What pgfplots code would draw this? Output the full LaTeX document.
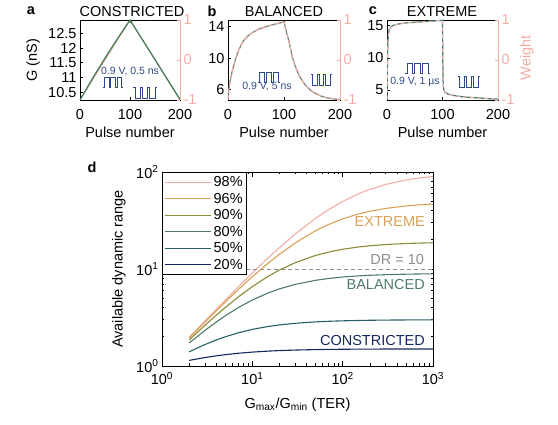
\documentclass[border=0pt]{standalone}
\usepackage{fontspec}
\setmainfont{Liberation Sans}
\setsansfont{Liberation Sans}
\usepackage{pgfplots}
\pgfplotsset{compat=1.18}

\definecolor{cpink}{HTML}{F2ADA4}
\definecolor{cgold}{HTML}{D9A256}
\definecolor{colive}{HTML}{8C8A35}
\definecolor{cgreen}{HTML}{4E7B68}
\definecolor{cteal}{HTML}{275E66}
\definecolor{cnavy}{HTML}{14275E}
\definecolor{cpulse}{HTML}{2E4A86}
\definecolor{cgA}{HTML}{3C7D5A}
\definecolor{cgB}{HTML}{7B807C}
\definecolor{cgC}{HTML}{3E7A6C}
\definecolor{cdr}{HTML}{8E8E8E}

\newcommand\fs{\fontsize{14.5}{16}\selectfont}
\newcommand\fsi{\fontsize{10.5}{12}\selectfont}

\newcommand\pup[4]{\draw[cpulse, line width=0.8pt, shift={(#1,#2)}, xscale=#3, yscale=#4] (0,0)--(0.08,0)--(0.08,1)--(0.3,1)--(0.3,0)--(0.39,0)--(0.39,1)--(0.61,1)--(0.61,0)--(0.7,0)--(0.7,1)--(0.92,1)--(0.92,0)--(1,0);}
\newcommand\pdn[4]{\draw[cpulse, line width=0.8pt, shift={(#1,#2)}, xscale=#3, yscale=#4] (0,1)--(0.08,1)--(0.08,0)--(0.3,0)--(0.3,1)--(0.39,1)--(0.39,0)--(0.61,0)--(0.61,1)--(0.7,1)--(0.7,0)--(0.92,0)--(0.92,1)--(1,1);}

\pgfplotsset{
  small/.style={
    scale only axis, height=80pt, xmin=0, xmax=200,
    xtick={0,100,200}, ytick pos=left, xtick pos=both,
    tick align=inside, major tick length=3pt,
    axis line style={line width=0.7pt}, tick style={line width=0.6pt, black},
    tick label style={font=\fs}, label style={font=\fs},
    /pgf/number format/assume math mode=true,
    xticklabel style={yshift=-6pt},
    xlabel={Pulse number},
    xlabel style={at={(axis description cs:0.5,-0.41)}, anchor=center},
  },
  weight/.style={
    scale only axis, height=80pt, xmin=0, xmax=200, ymin=-1, ymax=1,
    axis x line=none, axis y line*=right, ytick={-1,0,1}, yticklabels={-1,0,1},
    tick align=inside, major tick length=3pt,
    y axis line style={cpink, line width=0.9pt, -}, ytick style={cpink, line width=0.6pt},
    yticklabel style={text=cpink, font=\fs},
    label style={font=\fs},
  },
}

\begin{document}
\begin{tikzpicture}[x=1pt,y=1pt]
\useasboundingbox (0,0) rectangle (558,425);

% ---------------- panel a
\begin{axis}[small, at={(80pt,325pt)}, anchor=south west, width=100pt,
  ymin=10.24, ymax=12.95, ytick={10.5,11,11.5,12,12.5},
  ylabel={G (nS)}, ylabel style={at={(axis description cs:-0.47,0.5)}, anchor=center}]
\addplot[cpink, line width=1.1pt] coordinates {(0,10.24)(100,12.95)(200,10.24)};
\addplot[cgA, line width=1.2pt] coordinates {(0,10.24)(25,10.97)(50,11.66)(75,12.32)(100,12.95)(150,11.61)(200,10.26)};
\end{axis}
\begin{axis}[weight, at={(80pt,325pt)}, anchor=south west, width=100pt]
\end{axis}

% ---------------- panel b
\begin{axis}[small, at={(228pt,325pt)}, anchor=south west, width=112pt,
  ymin=4.7, ymax=14.85, ytick={6,10,14}]
\addplot[cgB, line width=1.2pt] coordinates {(0,4.75)(1,5.6)(2,6.3)(4,7.2)(7,8.2)(10,9.0)(14,10.0)(19,11.0)(25,11.9)(31,12.5)(40,13.1)(55,13.7)(70,14.05)(85,14.35)(100,14.6)(101,14.35)(103,13.7)(106,12.9)(109,12.1)(112,11.1)(115,10.1)(120,9.0)(127,7.8)(133,7.1)(139,6.5)(148,5.9)(157,5.5)(166,5.2)(175,5.0)(187,4.85)(200,4.75)};
\addplot[cpink, line width=1.1pt, dash pattern=on 4pt off 3pt] coordinates {(0,4.75)(1,5.6)(2,6.3)(4,7.2)(7,8.2)(10,9.0)(14,10.0)(19,11.0)(25,11.9)(31,12.5)(40,13.1)(55,13.7)(70,14.05)(85,14.35)(100,14.6)(101,14.35)(103,13.7)(106,12.9)(109,12.1)(112,11.1)(115,10.1)(120,9.0)(127,7.8)(133,7.1)(139,6.5)(148,5.9)(157,5.5)(166,5.2)(175,5.0)(187,4.85)(200,4.75)};
\end{axis}
\begin{axis}[weight, at={(228pt,325pt)}, anchor=south west, width=112pt]
\end{axis}

% ---------------- panel c
\begin{axis}[small, at={(387pt,325pt)}, anchor=south west, width=111pt,
  ymin=3.45, ymax=15.9, ytick={5,10,15}]
\addplot[cgC, line width=1.2pt] coordinates {(0,3.5)(0.5,7)(1,10.5)(1.5,12.3)(2.5,13.6)(4,14.4)(7,14.85)(12,15.1)(25,15.35)(40,15.5)(61,15.62)(80,15.72)(100,15.85)(100.5,10)(101,6.5)(102,5.2)(104,4.7)(109,4.4)(120,4.15)(133,3.98)(150,3.85)(168,3.75)(185,3.65)(200,3.58)};
\addplot[cpink, line width=1.1pt, dash pattern=on 4pt off 3pt] coordinates {(0,3.5)(0.5,7)(1,10.5)(1.5,12.3)(2.5,13.6)(4,14.4)(7,14.85)(12,15.1)(25,15.35)(40,15.5)(61,15.62)(80,15.72)(100,15.85)(100.5,10)(101,6.5)(102,5.2)(104,4.7)(109,4.4)(120,4.15)(133,3.98)(150,3.85)(168,3.75)(185,3.65)(200,3.58)};
\end{axis}
\begin{axis}[weight, at={(387pt,325pt)}, anchor=south west, width=111pt,
  ylabel={Weight}, ylabel style={text=cpink, at={(axis description cs:1.26,0.53)}, anchor=center}]
\end{axis}

% ---------------- panel d
\begin{axis}[at={(162pt,59pt)}, anchor=south west, scale only axis, width=271pt, height=194pt,
  xmode=log, ymode=log, xmin=1, xmax=1000, ymin=1, ymax=100,
  xtick={1,10,100,1000}, xticklabels={10\textsuperscript{0},10\textsuperscript{1},10\textsuperscript{2},10\textsuperscript{3}},
  ytick={1,10,100}, yticklabels={10\textsuperscript{0},10\textsuperscript{1},10\textsuperscript{2}},
  tick align=inside, major tick length=5pt, minor tick length=2.5pt,
  xtick pos=both, ytick pos=both,
  axis line style={line width=0.8pt}, tick style={line width=0.6pt, black},
  tick label style={font=\fs}, label style={font=\fs},
  xticklabel style={yshift=-3pt},
  xlabel={G\textsubscript{max}/G\textsubscript{min} (TER)},
  xlabel style={at={(axis description cs:0.5,-0.2)}, anchor=center},
  ylabel={Available dynamic range},
  ylabel style={at={(axis description cs:-0.159,0.5)}, anchor=center},
  legend style={at={(0,1)}, anchor=north west, font=\fs, fill=white, line width=0.9pt,
    inner xsep=2pt, inner ysep=2pt, row sep=0.9pt},
  legend image code/.code={\draw[#1, line width=1.2pt] (0pt,0pt) -- (46pt,0pt);},
  legend cell align=left,
]
\addplot[cpink, line width=1.1pt] coordinates {(2,1.970)(3,2.922)(4,3.854)(5,4.769)(7,6.547)(10,9.092)(15,13.035)(20,16.647)(30,23.031)(50,33.228)(70,41.012)(100,49.754)(150,59.643)(200,66.224)(300,74.439)(500,82.639)(700,86.734)(1000,90.083)};
\addlegendentry{98\%}
\addplot[cgold, line width=1.1pt] coordinates {(2,1.941)(3,2.846)(4,3.717)(5,4.556)(7,6.143)(10,8.322)(15,11.5)(20,14.217)(30,18.620)(50,24.758)(70,28.832)(100,32.893)(150,36.940)(200,39.361)(300,42.123)(500,44.628)(700,45.796)(1000,46.712)};
\addlegendentry{96\%}
\addplot[colive, line width=1.1pt] coordinates {(2,1.857)(3,2.636)(4,3.348)(5,4.0)(7,5.154)(10,6.586)(15,8.412)(20,9.769)(30,11.653)(50,13.783)(70,14.955)(100,15.975)(150,16.870)(200,17.356)(300,17.871)(500,18.306)(700,18.499)(1000,18.647)};
\addlegendentry{90\%}
\addplot[cgreen, line width=1.1pt] coordinates {(2,1.727)(3,2.333)(4,2.846)(5,3.286)(7,4.0)(10,4.789)(15,5.667)(20,6.241)(30,6.949)(50,7.644)(70,7.987)(100,8.266)(150,8.497)(200,8.617)(300,8.741)(500,8.843)(700,8.887)(1000,8.921)};
\addlegendentry{80\%}
\addplot[cteal, line width=1.1pt] coordinates {(2,1.4)(3,1.667)(4,1.857)(5,2.0)(7,2.2)(10,2.385)(15,2.556)(20,2.652)(30,2.758)(50,2.849)(70,2.890)(100,2.922)(150,2.948)(200,2.961)(300,2.974)(500,2.984)(700,2.989)(1000,2.992)};
\addlegendentry{50\%}
\addplot[cnavy, line width=1.1pt] coordinates {(2,1.143)(3,1.222)(4,1.273)(5,1.308)(7,1.353)(10,1.391)(15,1.424)(20,1.442)(30,1.460)(50,1.476)(70,1.483)(100,1.488)(150,1.492)(200,1.494)(300,1.496)(500,1.4975)(700,1.498)(1000,1.4988)};
\addlegendentry{20\%}
\addplot[cdr, line width=0.9pt, dash pattern=on 4pt off 3pt, forget plot] coordinates {(1,10)(1000,10)};
\node[anchor=east, inner sep=0pt, text=cgold, font=\fs] at (axis cs:815,30.7) {EXTREME};
\node[anchor=east, inner sep=0pt, text=cdr, font=\fs] at (axis cs:800,12.6) {DR = 10};
\node[anchor=east, inner sep=0pt, text=cgreen, font=\fs] at (axis cs:815,7.0) {BALANCED};
\node[anchor=east, inner sep=0pt, text=cnavy, font=\fs] at (axis cs:815,1.82) {CONSTRICTED};
\end{axis}

% titles and panel letters
\node[font=\fs] at (132,413) {CONSTRICTED};
\node[font=\fs] at (284,413) {BALANCED};
\node[font=\fs] at (442,413) {EXTREME};
\node[font=\fs\bfseries] at (31,414) {a};
\node[font=\fs\bfseries] at (212,414) {b};
\node[font=\fs\bfseries] at (373,414) {c};
\node[font=\fs\bfseries] at (92,258) {d};

% insets
\node[font=\fsi, text=cpulse] at (130,353.5) {0.9 V, 0.5 ns};
\pup{103}{338}{20}{10}
\pdn{133}{327}{24}{11}
\node[font=\fsi, text=cpulse] at (267,338) {0.9 V, 5 ns};
\pup{258}{343}{22}{10}
\pdn{311}{340}{21}{11}
\node[font=\fsi, text=cpulse] at (415,343) {0.9 V, 1 µs};
\pup{405}{352}{25}{10}
\pdn{458}{338}{22}{11}
\end{tikzpicture}
\end{document}
